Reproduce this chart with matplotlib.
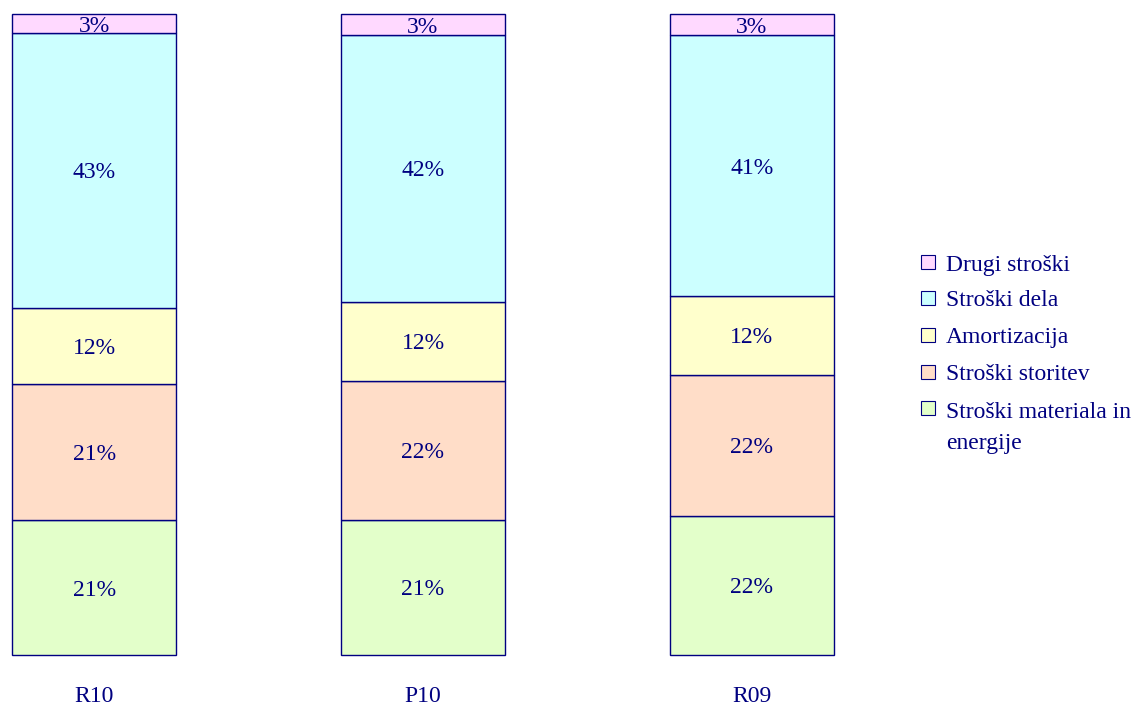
import matplotlib
matplotlib.use("Agg")
import matplotlib.pyplot as plt
from matplotlib.patches import Rectangle
import numpy as np

categories = ["R10", "P10", "R09"]
series_names = ["Stroški materiala in\nenergije", "Stroški storitev", "Amortizacija", "Stroški dela", "Drugi stroški"]
materiala = [21.0, 21.1, 21.7]
storitev = [21.3, 21.7, 22.0]
amortizacija = [11.9, 12.3, 12.3]
dela = [42.8, 41.6, 40.7]
drugi = [3.0, 3.3, 3.3]
series_values = [materiala, storitev, amortizacija, dela, drugi]
colors = ["#E3FFCA", "#FFDDC8", "#FFFFCC", "#CCFFFF", "#FFD9FF"]
navy = "#000080"

plt.rcParams['font.family'] = ['Liberation Serif', 'DejaVu Serif']

W, H = 1138, 706
fig = plt.figure(figsize=(W / 100, H / 100), dpi=100)
ax = fig.add_axes([12 / W, (H - 655) / H, (834 - 12) / W, (655 - 14) / H])

x = np.arange(len(categories))
bottom = np.zeros(len(categories))
for vals, col in zip(series_values, colors):
    vals = np.array(vals)
    bars = ax.bar(x, vals, width=0.5, bottom=bottom, color=col, edgecolor=navy, linewidth=1.0)
    for b in bars:
        b.set_clip_on(False)
    for xi, b, v in zip(x, bottom, vals):
        ax.text(xi, b + v / 2, f"{v:.0f}%", ha="center", va="center_baseline", fontsize=17, color=navy)
    bottom += vals

ax.set_xlim(-0.25, 2.25)
ax.set_ylim(0, bottom.max())
ax.set_xticks(x)
ax.set_xticklabels(categories, fontsize=17, color=navy)
ax.tick_params(axis="x", length=0, pad=22)
ax.set_yticks([])
for s in ax.spines.values():
    s.set_visible(False)

# legend (top to bottom = reverse stacking order)
legend_y = [265, 301, 338, 375, 411]
for name, col, yc in zip(series_names[::-1], colors[::-1], legend_y):
    hc = yc - 3
    fig.patches.append(Rectangle((921 / W, (H - hc - 7) / H), 14 / W, 14 / H,
                                 transform=fig.transFigure, facecolor=col,
                                 edgecolor=navy, linewidth=0.8))
    ty = yc if "\n" not in name else yc + 17
    fig.text(946 / W, (H - ty) / H, name, ha="left", va="center",
             fontsize=17, color=navy, linespacing=1.6)

fig.savefig("out.png", dpi=100)
